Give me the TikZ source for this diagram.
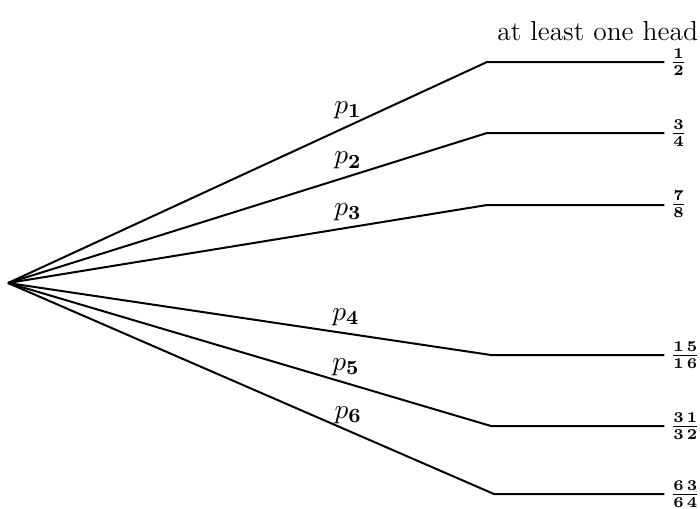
\documentclass[tikz,border=0pt]{standalone}
\usepackage{amsmath}
\usetikzlibrary{positioning}
\begin{document}
\begin{tikzpicture}[x=0.4pt,y=-0.4pt,line width=0.8pt,every node/.style={font=\fontsize{11}{13}\selectfont},frac/.style={anchor=west,inner sep=0.5pt,font=\fontsize{9}{10}\selectfont},prob/.style={above=1.5pt,inner sep=1pt}]
\useasboundingbox (0,0) rectangle (700,508);
\coordinate (root) at (8,283);
\coordinate (k1) at (487,62);
\coordinate (k2) at (487,133);
\coordinate (k3) at (487,205);
\coordinate (k4) at (491,355);
\coordinate (k5) at (491,426);
\coordinate (k6) at (494,494);
\node[frac] (f1) at (668,62) {$\frac{\mathbf{1}}{\mathbf{2}}$};
\node[frac] (f2) at (668,133) {$\frac{\mathbf{3}}{\mathbf{4}}$};
\node[frac] (f3) at (668,204) {$\frac{\mathbf{7}}{\mathbf{8}}$};
\node[frac] (f4) at (668,355) {$\frac{\mathbf{1\,5}}{\mathbf{1\,6}}$};
\node[frac] (f5) at (668,426) {$\frac{\mathbf{3\,1}}{\mathbf{3\,2}}$};
\node[frac] (f6) at (668,494) {$\frac{\mathbf{6\,3}}{\mathbf{6\,4}}$};
\node[anchor=east,inner sep=0pt] (title) at (699,31) {at least one head};
\draw (root) -- node[prob,pos=0.71] (p1) {$p_{\mathbf{1}}$} (k1) -- ([xshift=-1.5pt]k1 -| f1.west);
\draw (root) -- node[prob,pos=0.71] (p2) {$p_{\mathbf{2}}$} (k2) -- ([xshift=-1.5pt]k2 -| f2.west);
\draw (root) -- node[prob,pos=0.71] (p3) {$p_{\mathbf{3}}$} (k3) -- ([xshift=-1.5pt]k3 -| f3.west);
\draw (root) -- node[prob,pos=0.70] (p4) {$p_{\mathbf{4}}$} (k4) -- ([xshift=-1.5pt]k4 -| f4.west);
\draw (root) -- node[prob,pos=0.70] (p5) {$p_{\mathbf{5}}$} (k5) -- ([xshift=-1.5pt]k5 -| f5.west);
\draw (root) -- node[prob,pos=0.70] (p6) {$p_{\mathbf{6}}$} (k6) -- ([xshift=-1.5pt]k6 -| f6.west);
\end{tikzpicture}
\end{document}
